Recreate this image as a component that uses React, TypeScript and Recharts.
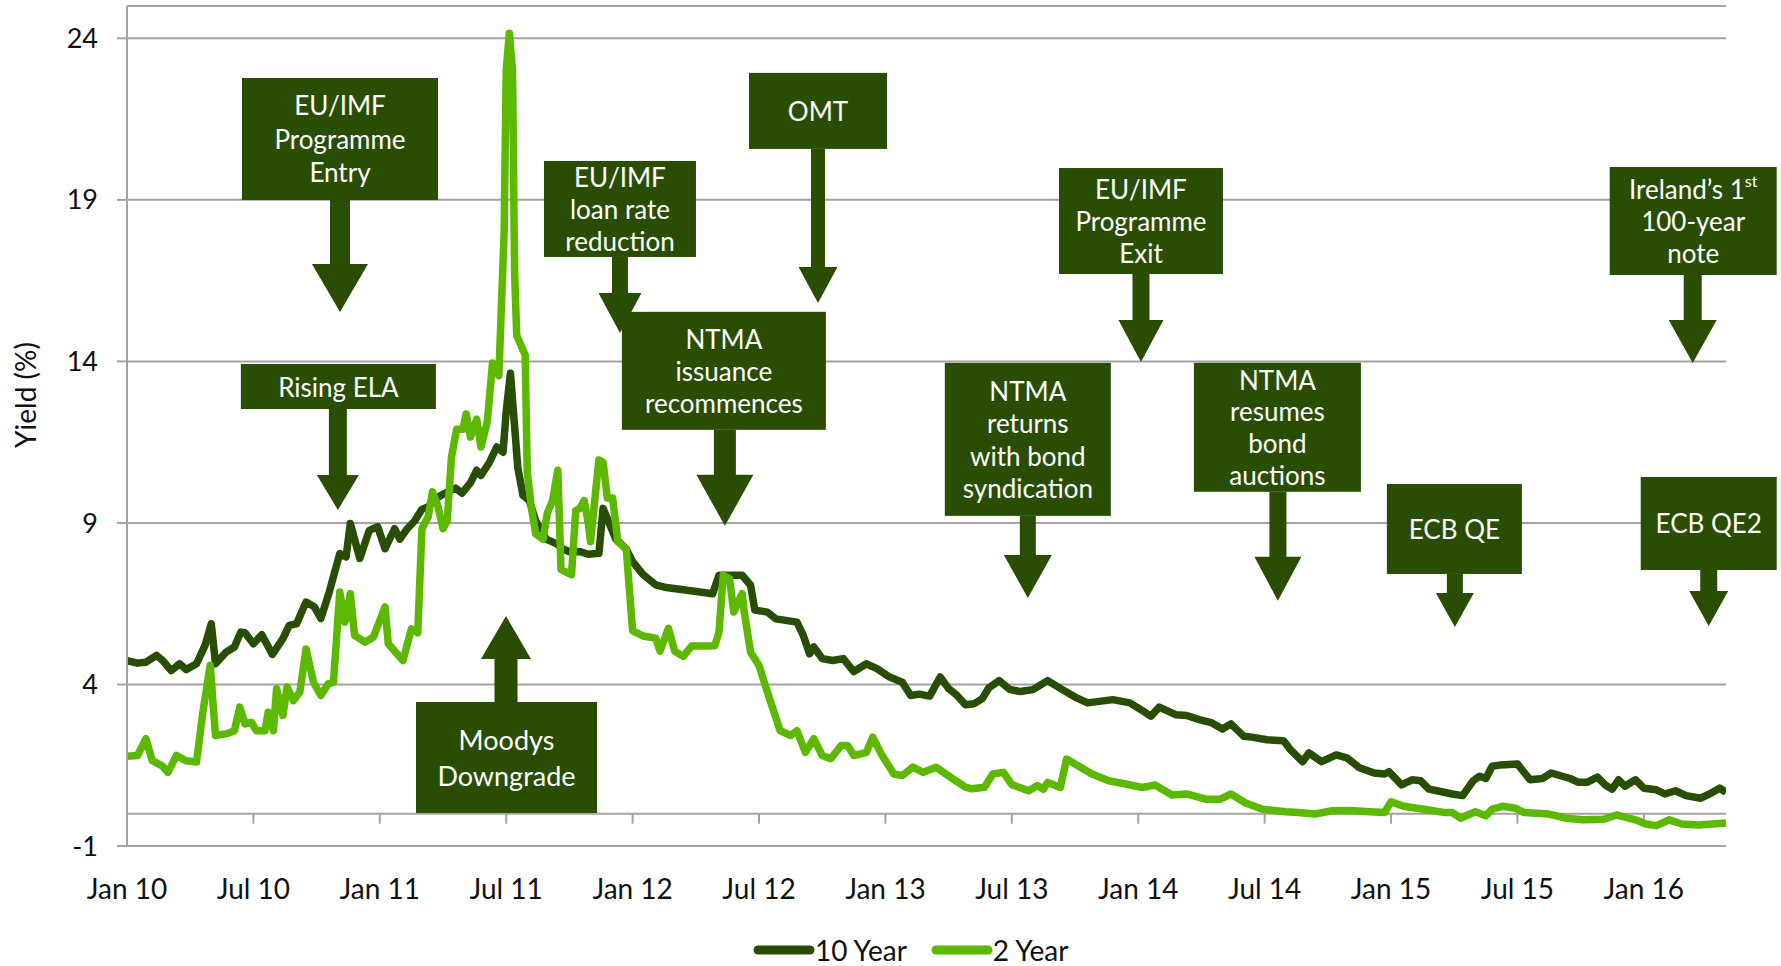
import React from "react";
import {
  LineChart,
  Line,
  XAxis,
  YAxis,
  CartesianGrid,
  ReferenceLine,
  ReferenceDot,
  Legend,
} from "recharts";

// months since Jan 2010
const tenYearMonths = [
  0, 0.5, 0.9, 1.4, 1.7, 2.1, 2.5, 2.8, 3.3, 3.7, 4.0, 4.2, 4.7, 5.1, 5.4, 5.6, 6.0, 6.4, 6.9, 7.4,
  7.7, 8.05, 8.5, 8.9, 9.2, 9.6, 10.1, 10.4, 10.6, 11.05, 11.5, 11.9, 12.25, 12.7, 12.95, 13.3,
  13.65, 14.0, 14.3, 14.7, 14.9, 15.6, 15.9, 16.3, 16.6, 16.8, 17.2, 17.55, 17.85, 18.0, 18.2,
  18.4, 18.55, 18.8, 19.1, 19.4, 19.9, 20.4, 20.7, 21.0, 21.5, 21.9, 22.4, 22.6, 23.2, 23.7, 24.0,
  24.5, 25.1, 25.6, 26.4, 27.2, 27.8, 28.1, 29.2, 29.6, 29.8, 30.4, 30.8, 31.8, 32.1, 32.4, 32.6,
  33.0, 33.5, 34.0, 34.5, 35.1, 35.6, 36.2, 36.8, 37.2, 37.6, 38.1, 38.6, 39.0, 39.4, 39.8, 40.2,
  40.6, 40.9, 41.4, 41.9, 42.4, 43.0, 43.7, 44.4, 45.0, 45.6, 46.8, 47.6, 48.2, 48.6, 49.0, 49.8,
  50.3, 50.9, 51.5, 52.0, 52.4, 53.0, 53.4, 54.1, 54.9, 55.2, 55.8, 56.1, 56.7, 57.4, 57.9, 58.5,
  59.2, 59.7, 59.9, 60.5, 61.0, 61.4, 61.8, 62.4, 62.9, 63.4, 63.9, 64.2, 64.5, 64.8, 65.2, 66.0,
  66.6, 67.2, 67.6, 68.5, 68.9, 69.3, 69.8, 70.2, 70.5, 70.8, 71.1, 71.6, 72.0, 72.6, 73.0, 73.5,
  74.0, 74.7, 75.2, 75.6, 75.9,
];
const tenYearYields = [
  4.74, 4.66, 4.69, 4.9, 4.74, 4.43, 4.64, 4.46, 4.64, 5.2, 5.88, 4.64, 5.0, 5.16, 5.62, 5.6, 5.26,
  5.54, 4.93, 5.42, 5.83, 5.88, 6.55, 6.4, 6.04, 6.86, 8.05, 7.95, 8.98, 7.9, 8.77, 8.88, 8.2, 8.82,
  8.5, 8.82, 9.06, 9.42, 9.5, 9.77, 9.85, 10.08, 9.92, 10.24, 10.63, 10.47, 10.87, 11.35, 11.19,
  12.45, 13.63, 11.98, 10.71, 9.85, 9.69, 9.06, 8.5, 8.35, 8.19, 8.11, 8.11, 8.03, 8.06, 9.45, 8.5,
  8.19, 7.8, 7.4, 7.08, 7.0, 6.93, 6.86, 6.81, 7.38, 7.38, 7.07, 6.3, 6.24, 6.03, 5.93, 5.52, 4.95,
  5.16, 4.8, 4.74, 4.8, 4.4, 4.64, 4.49, 4.23, 4.07, 3.66, 3.7, 3.64, 4.23, 3.87, 3.66, 3.37, 3.4,
  3.56, 3.89, 4.12, 3.85, 3.78, 3.84, 4.12, 3.84, 3.61, 3.43, 3.53, 3.43, 3.19, 3.02, 3.3, 3.06,
  3.04, 2.91, 2.81, 2.62, 2.78, 2.4, 2.37, 2.29, 2.26, 2.0, 1.61, 1.88, 1.61, 1.82, 1.73, 1.42,
  1.26, 1.23, 1.3, 0.89, 1.05, 1.02, 0.76, 0.68, 0.61, 0.56, 1.02, 1.16, 1.09, 1.47, 1.51, 1.54,
  1.05, 1.09, 1.26, 1.09, 0.97, 0.97, 1.13, 0.87, 0.76, 1.05, 0.85, 1.05, 0.79, 0.74, 0.61, 0.71,
  0.56, 0.48, 0.64, 0.79, 0.66,
];

const twoYearMonths = [
  0, 0.5, 0.9, 1.2, 1.65, 1.95, 2.35, 2.8, 3.3, 3.6, 3.95, 4.2, 4.7, 5.1, 5.35, 5.6, 5.9, 6.15, 6.55,
  6.7, 6.95, 7.1, 7.4, 7.6, 7.9, 8.2, 8.5, 8.85, 9.2, 9.55, 9.8, 10.1, 10.35, 10.6, 10.8, 11.3, 11.7,
  12.25, 12.4, 13.1, 13.5, 13.8, 14.0, 14.3, 14.5, 14.75, 15.0, 15.2, 15.4, 15.65, 15.95, 16.1, 16.3,
  16.6, 16.8, 17.1, 17.35, 17.65, 17.9, 18.0, 18.15, 18.3, 18.4, 18.5, 18.9, 19.0, 19.2, 19.4,
  19.75, 19.95, 20.2, 20.45, 20.6, 20.85, 21.1, 21.3, 21.5, 21.7, 21.9, 22.0, 22.4, 22.6, 22.8,
  23.05, 23.3, 23.7, 24.0, 24.5, 25.1, 25.3, 25.7, 26.0, 26.4, 26.8, 27.6, 27.9, 28.1, 28.3, 28.6,
  28.8, 29.2, 29.3, 29.6, 30.0, 30.4, 31.0, 31.5, 31.8, 32.2, 32.6, 33.0, 33.4, 33.9, 34.2, 34.5,
  35.1, 35.4, 35.8, 36.4, 36.8, 37.3, 37.8, 38.4, 39.2, 39.8, 40.1, 40.7, 41.1, 41.6, 42.0, 42.8,
  43.2, 43.5, 43.7, 44.3, 44.6, 45.0, 45.8, 46.6, 47.4, 48.2, 48.8, 49.6, 50.3, 51.2, 51.9, 52.4,
  53.1, 53.9, 55.0, 55.6, 56.4, 57.2, 58.0, 59.0, 59.7, 60.0, 60.6, 61.7, 62.5, 62.9, 63.3, 64.0,
  64.5, 64.8, 65.3, 65.9, 66.3, 67.5, 68.3, 69.1, 70.1, 70.7, 71.6, 72.1, 72.6, 73.2, 73.8, 74.6,
  75.9,
];
const twoYearYields = [
  1.78, 1.8, 2.32, 1.64, 1.49, 1.28, 1.8, 1.64, 1.6, 3.14, 4.59, 2.42, 2.47, 2.57, 3.3, 2.78, 2.83,
  2.57, 2.57, 3.14, 2.57, 3.87, 3.04, 3.92, 3.5, 3.76, 5.1, 4.07, 3.66, 4.02, 4.07, 6.86, 5.93,
  6.81, 5.52, 5.31, 5.47, 6.4, 5.26, 4.74, 5.72, 5.6, 8.82, 9.2, 9.96, 9.53, 8.82, 9.06, 11.03,
  11.9, 11.9, 12.37, 11.66, 12.21, 11.35, 12.13, 13.95, 13.56, 17.97, 23.0, 24.16, 23.0, 16.7,
  14.8, 14.2, 10.56, 9.45, 8.66, 8.5, 9.3, 9.69, 10.63, 7.56, 7.48, 7.4, 9.38, 9.45, 9.69, 8.98,
  8.42, 10.95, 10.87, 9.77, 9.77, 8.42, 8.19, 5.66, 5.5, 5.43, 5.03, 5.74, 5.03, 4.87, 5.19, 5.19,
  5.2, 5.62, 7.38, 7.27, 6.24, 6.81, 6.24, 5.0, 4.59, 3.76, 2.57, 2.42, 2.57, 1.9, 2.32, 1.8, 1.7,
  2.11, 2.11, 1.8, 1.9, 2.37, 1.85, 1.23, 1.18, 1.44, 1.28, 1.44, 1.08, 0.82, 0.77, 0.82, 1.23,
  1.28, 0.9, 0.71, 0.87, 0.76, 0.97, 0.81, 1.69, 1.54, 1.23, 1.02, 0.92, 0.81, 0.89, 0.58, 0.61,
  0.45, 0.45, 0.61, 0.33, 0.14, 0.06, 0.04, -0.01, 0.09, 0.1, 0.06, 0.04, 0.37, 0.23, 0.12, 0.04,
  0.04, -0.14, 0.06, -0.06, 0.14, 0.23, 0.17, 0.04, -0.01, -0.14, -0.19, -0.17, -0.04, -0.19,
  -0.32, -0.37, -0.19, -0.32, -0.35, -0.29,
];

const tickMonths = [0, 6, 12, 18, 24, 30, 36, 42, 48, 54, 60, 66, 72];
const tickLabels = [
  "Jan 10", "Jul 10", "Jan 11", "Jul 11", "Jan 12", "Jul 12", "Jan 13",
  "Jul 13", "Jan 14", "Jul 14", "Jan 15", "Jul 15", "Jan 16",
];
const yTicks = [-1, 4, 9, 14, 19, 24];

const tenYear = tenYearMonths.map((m, i) => ({ m, y: tenYearYields[i] }));
const twoYear = twoYearMonths.map((m, i) => ({ m, y: twoYearYields[i] }));

const DARK = "#284d04";
const LIGHT = "#5cb800";
const BOX = "#294e03";
const GRID = "#a3a3a3";
const FONT = "Lato, 'Open Sans', sans-serif";

// event call-outs: arrow tip in data units, box/arrow sizes in px relative to the tip
type Callout = {
  m: number;
  v: number;
  lines: string[];
  box: [number, number, number, number]; // left, right, top, bottom
  shaft: number;
  headW: number;
  head: number; // y of arrow head base, relative to tip
  gap?: number;
  fs?: number;
  sup?: boolean;
};

const callouts: Callout[] = [
  { m: 10.11, v: 15.53, lines: ["EU/IMF", "Programme", "Entry"], box: [-98, 98, -234, -112], shaft: 20, headW: 56, head: -48, gap: 33.5 },
  { m: 10.01, v: 9.4, lines: ["Rising ELA"], box: [-97, 98, -146, -101], shaft: 18, headW: 42, head: -35 },
  { m: 17.99, v: 6.12, lines: ["Moodys", "Downgrade"], box: [-90, 91, 86, 197], shaft: 23, headW: 50, head: 43, gap: 35.5, fs: 27 },
  { m: 23.4, v: 14.88, lines: ["EU/IMF", "loan rate", "reduction"], box: [-76, 76, -172, -76], shaft: 16, headW: 43, head: -40, gap: 32 },
  { m: 28.38, v: 8.91, lines: ["NTMA", "issuance", "recommences"], box: [-103, 101, -214, -96], shaft: 22, headW: 57, head: -51, gap: 31.7 },
  { m: 32.8, v: 15.81, lines: ["OMT"], box: [-69, 69, -230, -154], shaft: 14, headW: 39, head: -36 },
  { m: 42.76, v: 6.68, lines: ["NTMA", "returns", "with bond", "syndication"], box: [-83, 83, -235, -82], shaft: 16, headW: 48, head: -43, gap: 32.3 },
  { m: 48.13, v: 13.98, lines: ["EU/IMF", "Programme", "Exit"], box: [-82, 82, -194, -88], shaft: 17, headW: 45, head: -42, gap: 31.6 },
  { m: 54.63, v: 6.59, lines: ["NTMA", "resumes", "bond", "auctions"], box: [-84, 83, -238, -109], shaft: 17, headW: 47, head: -44, gap: 31.8 },
  { m: 63.03, v: 5.78, lines: ["ECB QE"], box: [-68, 67, -143, -53], shaft: 16, headW: 38, head: -34 },
  { m: 74.32, v: 13.95, lines: ["Ireland\u2019s 1", "100-year", "note"], box: [-83, 84, -196, -88], shaft: 18, headW: 48, head: -43, gap: 31.6, sup: true },
  { m: 75.08, v: 5.81, lines: ["ECB QE2"], box: [-68, 68, -149, -56], shaft: 17, headW: 39, head: -35 },
];

function CalloutShape({ cx, cy, c }: { cx: number; cy: number; c: Callout }) {
  const [l, r, t, b] = c.box;
  const up = t > 0;
  const edge = up ? cy + t : cy + b; // where the shaft meets the box
  const hy = cy + c.head;
  const s = c.shaft / 2;
  const h = c.headW / 2;
  const pts = [
    [cx - s, edge],
    [cx + s, edge],
    [cx + s, hy],
    [cx + h, hy],
    [cx, cy],
    [cx - h, hy],
    [cx - s, hy],
  ]
    .map((p) => p.join(","))
    .join(" ");
  const gap = c.gap ?? 32;
  const midX = cx + (l + r) / 2;
  const midY = cy + (t + b) / 2;
  const first = midY - ((c.lines.length - 1) * gap) / 2;
  return (
    <g>
      <polygon points={pts} fill={BOX} />
      <rect x={cx + l} y={cy + t} width={r - l} height={b - t} fill={BOX} />
      {c.lines.map((line, i) => (
        <text
          key={i}
          x={midX}
          y={first + i * gap}
          textAnchor="middle"
          dominantBaseline="central"
          fill="#fff"
          fontFamily={FONT}
          fontSize={c.fs ?? 26}
        >
          {line}
          {c.sup && i === 0 ? (
            <tspan fontSize={16} dy={-9}>
              st
            </tspan>
          ) : null}
        </text>
      ))}
    </g>
  );
}

const XTick = (props: any) => {
  const { x, y, payload } = props;
  const idx = tickMonths.indexOf(payload.value);
  return (
    <text x={x} y={y + 34} textAnchor="middle" dominantBaseline="central" fill="#111" fontFamily={FONT} fontSize={28}>
      {tickLabels[idx]}
    </text>
  );
};

const LegendBox = () => (
  <div style={{ display: "flex", alignItems: "center", fontFamily: FONT, fontSize: 28, color: "#111", lineHeight: "34px" }}>
    <svg width={62} height={12}>
      <line x1={5} y1={6} x2={57} y2={6} stroke={DARK} strokeWidth={9} strokeLinecap="round" />
    </svg>
    <span style={{ marginRight: 24 }}>10 Year</span>
    <svg width={62} height={12}>
      <line x1={5} y1={6} x2={57} y2={6} stroke={LIGHT} strokeWidth={9} strokeLinecap="round" />
    </svg>
    <span>2 Year</span>
  </div>
);

export default function App() {
  return (
    <div style={{ position: "absolute", left: 0, top: 0, background: "#fff" }}>
      <LineChart width={1781} height={966} margin={{ top: 6, right: 55, bottom: 0, left: 0 }}>
        <CartesianGrid horizontal vertical={false} stroke={GRID} strokeWidth={2} />
        <XAxis
          dataKey="m"
          type="number"
          domain={[0, 75.9]}
          allowDataOverflow
          ticks={tickMonths}
          interval={0}
          axisLine={false}
          tickLine={false}
          height={120}
          tick={<XTick />}
        />
        <YAxis
          type="number"
          domain={[-1, 25]}
          allowDataOverflow
          ticks={yTicks}
          interval={0}
          width={127}
          stroke={GRID}
          strokeWidth={2}
          tickSize={10}
          tickMargin={19}
          tick={{ fill: "#111", fontSize: 27, fontFamily: FONT }}
          label={{
            content: () => (
              <text
                x={25}
                y={395}
                transform="rotate(-90 25 395)"
                textAnchor="middle"
                dominantBaseline="central"
                fill="#111"
                fontFamily={FONT}
                fontSize={28}
              >
                Yield (%)
              </text>
            ),
          }}
        />
        <ReferenceLine y={0} stroke={GRID} strokeWidth={2} />
        {tickMonths.slice(1).map((t) => (
          <ReferenceLine
            key={t}
            segment={[
              { x: t, y: 0 },
              { x: t, y: -0.31 },
            ]}
            stroke={GRID}
            strokeWidth={2}
          />
        ))}
        <Line
          data={tenYear}
          dataKey="y"
          name="10 Year"
          stroke={DARK}
          strokeWidth={7.5}
          strokeLinejoin="round"
          dot={false}
          activeDot={false}
          isAnimationActive={false}
        />
        <Line
          data={twoYear}
          dataKey="y"
          name="2 Year"
          stroke={LIGHT}
          strokeWidth={7.5}
          strokeLinejoin="round"
          dot={false}
          activeDot={false}
          isAnimationActive={false}
        />
        {callouts.map((c, i) => (
          <ReferenceDot
            key={i}
            x={c.m}
            y={c.v}
            r={1}
            ifOverflow="visible"
            shape={(p: any) => <CalloutShape cx={p.cx} cy={p.cy} c={c} />}
          />
        ))}
        <Legend
          layout="horizontal"
          verticalAlign="middle"
          align="center"
          wrapperStyle={{ top: 933, left: 753, width: "auto" }}
          content={<LegendBox />}
        />
      </LineChart>
    </div>
  );
}
